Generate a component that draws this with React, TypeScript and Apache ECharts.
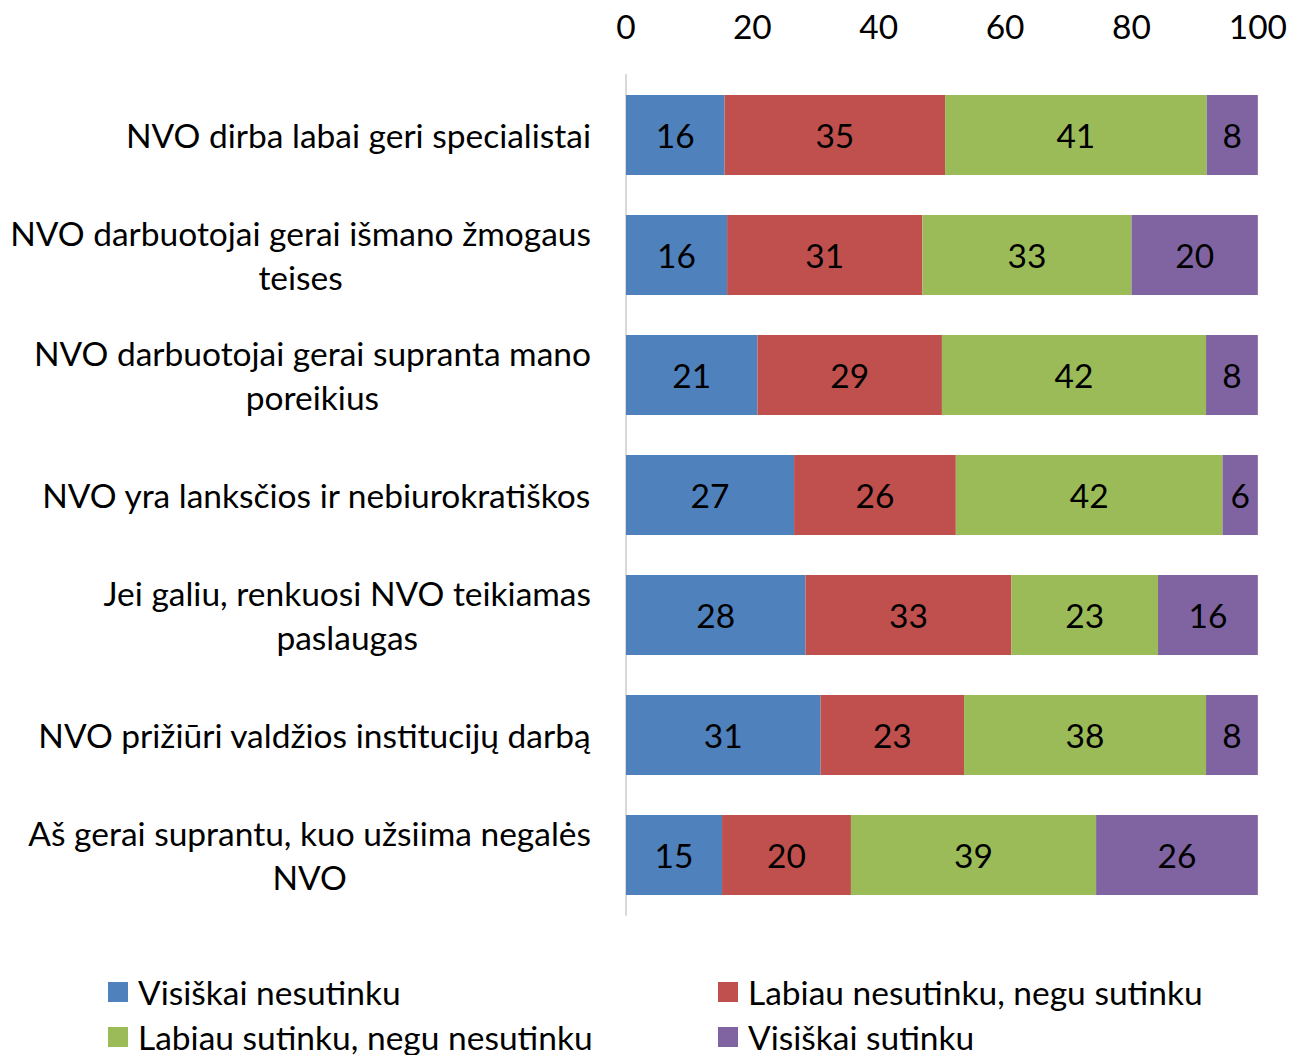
import React, { useEffect, useRef } from "react";
import * as echarts from "echarts";

const categories = [
  "NVO dirba labai geri specialistai",
  "NVO darbuotojai gerai išmano žmogaus\nteises",
  "NVO darbuotojai gerai supranta mano\nporeikius",
  "NVO yra lanksčios ir nebiurokratiškos",
  "Jei galiu, renkuosi NVO teikiamas\npaslaugas",
  "NVO prižiūri valdžios institucijų darbą",
  "Aš gerai suprantu, kuo užsiima negalės\nNVO",
];

const seriesNames = [
  "Visiškai nesutinku",
  "Labiau nesutinku, negu sutinku",
  "Labiau sutinku, negu nesutinku",
  "Visiškai sutinku",
];

const visiskaiNesutinku = [15.6, 16.0, 20.8, 26.6, 28.4, 30.8, 15.2];
const labiauNesutinku = [34.9, 30.9, 29.2, 25.6, 32.6, 22.7, 20.4];
const labiauSutinku = [41.4, 33.1, 41.8, 42.2, 23.2, 38.3, 38.8];
const visiskaiSutinku = [8.1, 20.0, 8.2, 5.6, 15.8, 8.2, 25.6];

const xTicks = { min: 0, max: 100, interval: 20 };

const colors = ["#4F81BD", "#C0504D", "#9BBB59", "#8064A2"];

const FONT = "Lato";
const FS = 33.5;

export default function App() {
  const ref = useRef<HTMLDivElement>(null);

  useEffect(() => {
    if (!ref.current) return;
    const chart = echarts.init(ref.current, null, { renderer: "svg" });
    const values = [visiskaiNesutinku, labiauNesutinku, labiauSutinku, visiskaiSutinku];
    const legendText = {
      fontFamily: FONT,
      fontSize: FS,
      color: "#000",
      lineHeight: 34,
      padding: [0, 0, 0, 5],
    };
    const option: any = {
      animation: false,
      backgroundColor: "#ffffff",
      textStyle: { fontFamily: FONT },
      grid: { left: 626, right: 30, top: 75, bottom: 140, containLabel: false },
      xAxis: {
        type: "value",
        position: "top",
        min: xTicks.min,
        max: xTicks.max,
        interval: xTicks.interval,
        axisLine: { show: false },
        axisTick: { show: false },
        splitLine: { show: false },
        axisLabel: { fontFamily: FONT, fontSize: FS, color: "#000", margin: 32 },
      },
      yAxis: {
        type: "category",
        inverse: true,
        data: categories,
        axisLine: { show: true, lineStyle: { color: "#D9D9D9", width: 2 } },
        axisTick: { show: false },
        axisLabel: {
          margin: 35,
          align: "right",
          fontFamily: FONT,
          fontSize: FS,
          color: "#000",
          lineHeight: 44,
          formatter: (v: string) =>
            v
              .split("\n")
              .map((l) => `{c|${l}}`)
              .join("\n"),
          rich: {
            c: { align: "center", fontFamily: FONT, fontSize: FS, color: "#000", lineHeight: 44 },
          },
        },
      },
      legend: [
        {
          orient: "vertical",
          left: 103,
          top: 970,
          height: 120,
          itemWidth: 20,
          itemHeight: 20,
          itemGap: 11,
          icon: "rect",
          data: [seriesNames[0], seriesNames[2]],
          textStyle: legendText,
        },
        {
          orient: "vertical",
          left: 713,
          top: 970,
          height: 120,
          itemWidth: 20,
          itemHeight: 20,
          itemGap: 11,
          icon: "rect",
          data: [seriesNames[1], seriesNames[3]],
          textStyle: legendText,
        },
      ],
      series: seriesNames.map((name, i) => ({
        name,
        type: "bar",
        stack: "total",
        barCategoryGap: "33.3%",
        data: values[i],
        itemStyle: { color: colors[i] },
        label: {
          show: true,
          position: "inside",
          fontFamily: FONT,
          fontSize: FS,
          color: "#000",
          formatter: (p: any) => String(Math.round(p.value)),
        },
      })),
    };
    chart.setOption(option);
    return () => chart.dispose();
  }, []);

  return (
    <div
      ref={ref}
      style={{ position: "fixed", left: 0, top: 0, width: 1290, height: 1055, background: "#fff" }}
    />
  );
}
